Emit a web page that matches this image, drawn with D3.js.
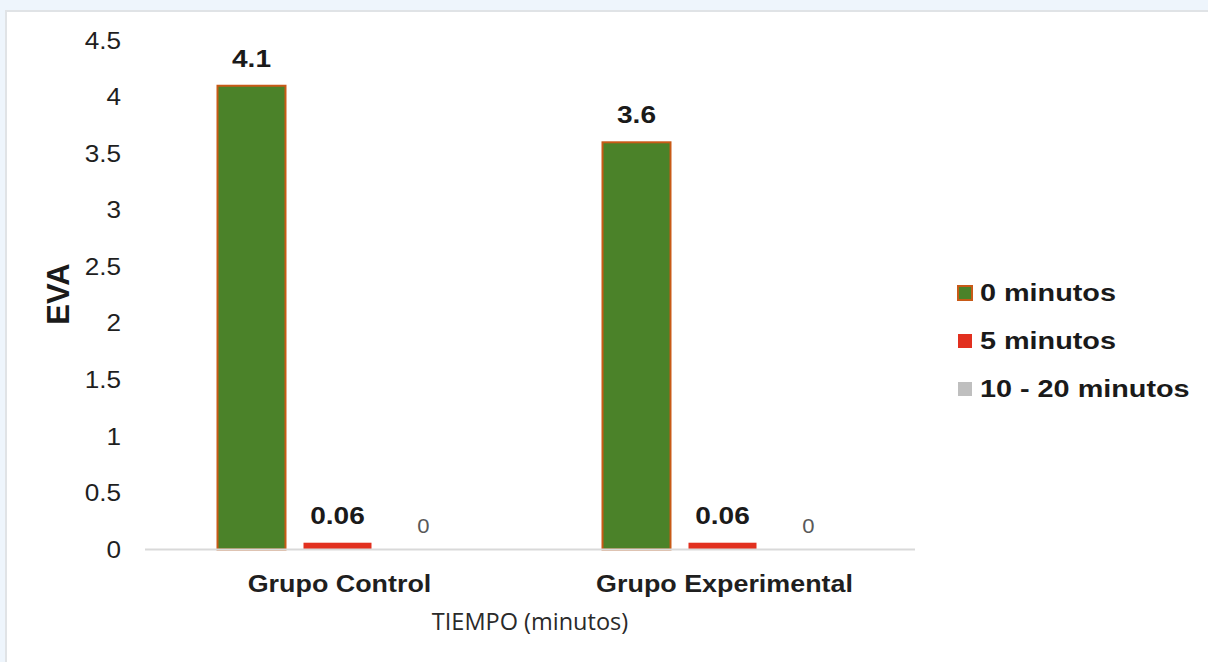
<!DOCTYPE html>
<html>
<head>
<meta charset="utf-8">
<script src="https://cdn.jsdelivr.net/npm/d3@7"></script>
<style>
  html, body { margin: 0; padding: 0; background: #eef5fc; }
  svg { display: block; }
</style>
</head>
<body>
<svg id="chart" width="1208" height="662"></svg>
<script>
// Pain score (EVA) by group and time after treatment
const categories = ["Grupo Control", "Grupo Experimental"];
const seriesNames = ["0 minutos", "5 minutos", "10 - 20 minutos"];
const values0 = [4.1, 3.6];
const values5 = [0.06, 0.06];
const values10 = [0, 0];
const yTicks = [0, 0.5, 1, 1.5, 2, 2.5, 3, 3.5, 4, 4.5];
const yTickLabels = ["0", "0.5", "1", "1.5", "2", "2.5", "3", "3.5", "4", "4.5"];
const seriesValues = [values0, values5, values10];

const fills = ["#4b8229", "#e2301f", "#bfbfbf"];
const strokes = ["#c85a17", "none", "none"];
const sans = "Liberation Sans, Arial, sans-serif";

const svg = d3.select("#chart");

// white card
svg.append("rect")
  .attr("x", 6).attr("y", 11)
  .attr("width", 1220).attr("height", 680)
  .attr("fill", "#ffffff")
  .attr("stroke", "#e0e3e6").attr("stroke-width", 2);

const plot = { left: 145, right: 915, top: 40.5, bottom: 549.5 };

const y = d3.scaleLinear().domain([0, 4.5]).range([plot.bottom, plot.top]);
const x0 = d3.scaleBand().domain(categories).range([plot.left, plot.right]).padding(0);
const x1 = d3.scaleBand().domain(seriesNames).range([0, x0.bandwidth()])
  .paddingInner(18 / 86).paddingOuter(0.843);

const rows = [];
categories.forEach((c, ci) => {
  seriesNames.forEach((s, si) => {
    rows.push({ cat: c, series: s, si, value: seriesValues[si][ci] });
  });
});

// y axis labels
const yAxis = d3.axisLeft(y).tickValues(yTicks)
  .tickFormat((d, i) => yTickLabels[i]).tickSize(0).tickPadding(0);
const gy = svg.append("g").attr("transform", "translate(121,0)").call(yAxis);
gy.select(".domain").remove();
gy.selectAll("text")
  .attr("font-family", sans)
  .attr("font-size", 24).attr("fill", "#1f1f1f")
  .attr("transform", "scale(1.09,1)");

// bars
svg.append("g").selectAll("rect")
  .data(rows.filter(d => d.value > 0))
  .join("rect")
  .attr("x", d => x0(d.cat) + x1(d.series))
  .attr("y", d => y(d.value))
  .attr("width", x1.bandwidth())
  .attr("height", d => y(0) - y(d.value))
  .attr("fill", d => fills[d.si])
  .attr("stroke", d => strokes[d.si])
  .attr("stroke-width", 2);

// baseline
svg.append("line")
  .attr("x1", plot.left).attr("x2", plot.right)
  .attr("y1", y(0)).attr("y2", y(0))
  .attr("stroke", "#d9d9d9").attr("stroke-width", 2);

// value labels (slightly widened glyphs)
svg.append("g").selectAll("text")
  .data(rows)
  .join("text")
  .attr("transform", d => {
    const cx = x0(d.cat) + x1(d.series) + x1.bandwidth() / 2;
    const cy = d.value > 0 ? y(d.value) - 19 : y(0) - 17;
    return `translate(${cx},${cy}) scale(${d.value > 0 ? 1.17 : 1.05},1)`;
  })
  .attr("text-anchor", "middle")
  .attr("font-family", sans)
  .attr("font-weight", d => d.value > 0 ? "bold" : "normal")
  .attr("font-size", d => d.value > 0 ? 24 : 21)
  .attr("fill", d => d.value > 0 ? "#1a1a1a" : "#595959")
  .text(d => String(d.value));

// category labels
svg.append("g").selectAll("text")
  .data(categories)
  .join("text")
  .attr("transform", d => `translate(${x0(d) + x0.bandwidth() / 2 + 2},592) scale(1.12,1)`)
  .attr("text-anchor", "middle")
  .attr("font-family", sans)
  .attr("font-weight", "bold").attr("font-size", 24)
  .attr("fill", "#1f1f1f")
  .text(d => d);

// axis titles
svg.append("text")
  .attr("x", (plot.left + plot.right) / 2).attr("y", 630)
  .attr("text-anchor", "middle")
  .attr("font-family", "Open Sans, sans-serif")
  .attr("font-size", 23.5).attr("fill", "#2a2a2a")
  .text("TIEMPO (minutos)");

svg.append("text")
  .attr("transform", "translate(69,294) rotate(-90)")
  .attr("text-anchor", "middle")
  .attr("font-family", sans)
  .attr("font-weight", "bold").attr("font-size", 31)
  .attr("fill", "#1a1a1a")
  .text("EVA");

// legend
const legend = svg.append("g").selectAll("g")
  .data(seriesNames)
  .join("g")
  .attr("transform", (d, i) => `translate(957,${301 + i * 48})`);
legend.append("rect")
  .attr("x", 1).attr("y", -15).attr("width", 14).attr("height", 14)
  .attr("fill", (d, i) => fills[i])
  .attr("stroke", (d, i) => strokes[i]).attr("stroke-width", 2);
legend.append("text")
  .attr("transform", "translate(23,0) scale(1.2,1)")
  .attr("font-family", sans)
  .attr("font-weight", "bold").attr("font-size", 24)
  .attr("fill", "#1a1a1a")
  .text(d => d);
</script>
</body>
</html>
